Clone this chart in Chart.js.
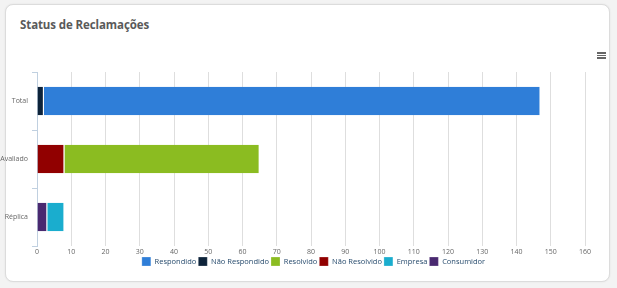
<!DOCTYPE html>
<html><head><meta charset="utf-8">
<script src="https://cdn.jsdelivr.net/npm/chart.js@4"></script>
<style>
html,body{margin:0;padding:0;width:617px;height:288px;background:#f3f3f3;overflow:hidden;font-family:"Open Sans",sans-serif;}
#card{position:absolute;left:5px;top:4px;width:603px;height:276px;background:#fff;border:1px solid #dcdcdc;border-radius:8px;box-shadow:0 0 2px rgba(0,0,0,0.08);}
#title{position:absolute;left:20px;top:17px;font-size:11.5px;font-weight:bold;color:#5a5a5a;letter-spacing:-0.1px;}
#menu{position:absolute;left:597px;top:52px;width:9px;}
#menu div{height:1.5px;background:#666;margin-bottom:1.2px;}
#c{position:absolute;left:0;top:0;}
</style></head><body>
<div id="card"></div>
<div id="title">Status de Reclamações</div>
<div id="menu"><div></div><div></div><div></div></div>
<canvas id="c" width="617" height="288"></canvas>
<script>
const categories = ["Total", "Avaliado", "Réplica"];
const respondido    = [145, null, null];
const naoRespondido = [2, null, null];
const resolvido     = [null, 57, null];
const naoResolvido  = [null, 8, null];
const empresa       = [null, null, 5];
const consumidor    = [null, null, 3];
const xTicks = [0,10,20,30,40,50,60,70,80,90,100,110,120,130,140,150,160];

const ds = (label, data, color) => ({label, data, backgroundColor: color, borderColor:'#ffffff', borderWidth:{top:0,bottom:0,left:0,right:1}, borderSkipped:false, barPercentage:0.49, categoryPercentage:1});

const legendShift = {
  id:'legendShift',
  afterLayout(chart){ const l = chart.legend; if(l){ l.left += 21; l.right += 21; } }
};

new Chart(document.getElementById('c'), {
  type:'bar',
  data:{labels:categories, datasets:[
    ds('Consumidor', consumidor, '#492970'),
    ds('Empresa', empresa, '#1aadce'),
    ds('Não Resolvido', naoResolvido, '#910000'),
    ds('Resolvido', resolvido, '#8bbc21'),
    ds('Não Respondido', naoRespondido, '#0d233a'),
    ds('Respondido', respondido, '#2f7ed8')
  ]},
  plugins:[legendShift],
  options:{
    indexAxis:'y', responsive:false, animation:false,
    layout:{padding:{left:0,right:32,top:72,bottom:12}},
    plugins:{
      tooltip:{enabled:false},
      legend:{position:'bottom', reverse:true,
        labels:{boxWidth:9, boxHeight:9, padding:2, color:'#274b6d', font:{family:'Open Sans', size:7.5}}}
    },
    scales:{
      x:{stacked:true, min:0, max:160,
        afterBuildTicks:(s)=>{s.ticks = xTicks.map(v=>({value:v}));},
        afterFit:(s)=>{s.height=9;},
        grid:{color:'#dedede', drawTicks:false, lineWidth:1},
        border:{display:false},
        ticks:{color:'#666', padding:2, font:{family:'Open Sans', size:7}, maxRotation:0, autoSkip:false}},
      y:{stacked:true,
        afterFit:(s)=>{s.width=37;},
        grid:{offset:true, drawOnChartArea:false, drawTicks:true, tickLength:5, color:'#c0d0e0'},
        border:{display:true, color:'#c0d0e0'},
        ticks:{color:'#666', padding:4, font:{family:'Open Sans', size:7}}}
    }
  }
});
</script>
</body></html>
